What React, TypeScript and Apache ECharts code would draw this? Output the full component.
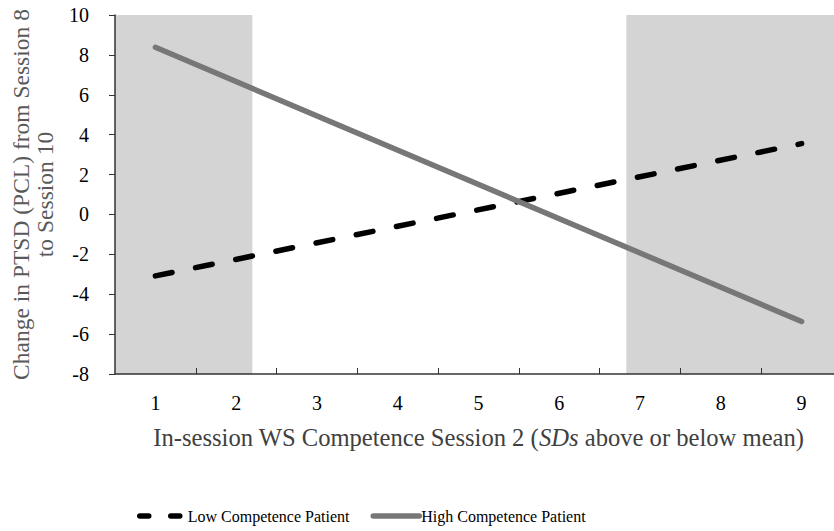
import React, { useEffect, useRef } from "react";
import * as echarts from "echarts";

const xLabelValues = [1, 2, 3, 4, 5, 6, 7, 8, 9];
const xTickValues = [1.5, 2.5, 3.5, 4.5, 5.5, 6.5, 7.5, 8.5];
const lowCompetence: [number, number][] = [
  [1, -3.08],
  [9, 3.55],
];
const highCompetence: [number, number][] = [
  [1, 8.38],
  [9, -5.37],
];
const shadedRegions: [number, number][] = [
  [0.5, 2.2],
  [6.83, 9.5],
];

const FONT = "'Liberation Serif', 'Times New Roman', serif";

export default function App() {
  const ref = useRef<HTMLDivElement>(null);
  useEffect(() => {
    document.body.style.margin = "0";
    const chart = echarts.init(ref.current!, undefined, { renderer: "svg" });
    chart.setOption({
      animation: false,
      backgroundColor: "#ffffff",
      textStyle: { fontFamily: FONT },
      grid: { left: 115, top: 15, right: -8, bottom: 157, outerBoundsMode: "none", containLabel: false },
      legend: {
        left: 132,
        top: 503,
        itemWidth: 46,
        itemHeight: 14,
        itemGap: 21,
        itemStyle: { opacity: 0 },
        data: [
          { name: "Low Competence Patient", lineStyle: { color: "#000", width: 5.5, type: [9, 22], cap: "round" } },
          { name: "High Competence Patient", lineStyle: { color: "#777", width: 5.5, type: "solid", cap: "round" } },
        ],
        textStyle: { fontFamily: FONT, fontSize: 16, color: "#000", padding: [0, 0, 0, -3] },
      },
      xAxis: {
        type: "value",
        min: 0.5,
        max: 9.5,
        name: "In-session WS Competence Session 2 ({i|SDs} above or below mean)",
        nameLocation: "middle",
        nameGap: 51,
        nameTextStyle: {
          fontFamily: FONT,
          fontSize: 24.6,
          color: "#404040",
          rich: { i: { fontFamily: FONT, fontSize: 24.6, fontStyle: "italic", color: "#404040" } },
        },
        axisLine: { show: true, onZero: false, lineStyle: { color: "#333", width: 1.5 } },
        axisTick: { show: true, inside: true, length: 6, customValues: xTickValues, lineStyle: { color: "#333" } },
        axisLabel: { customValues: xLabelValues, margin: 19, fontSize: 20, color: "#000", fontFamily: FONT },
        splitLine: { show: false },
        z: 5,
      },
      yAxis: {
        type: "value",
        min: -8,
        max: 10,
        interval: 2,
        name: "Change in PTSD (PCL) from Session 8\nto Session 10",
        nameLocation: "middle",
        nameGap: 58,
        nameTextStyle: { fontFamily: FONT, fontSize: 23.5, color: "#595959", lineHeight: 24 },
        axisLine: { show: true, lineStyle: { color: "#333", width: 1.5 } },
        axisTick: { show: true, inside: false, length: 6, lineStyle: { color: "#333" } },
        axisLabel: { margin: 26, fontSize: 20, color: "#000", fontFamily: FONT },
        splitLine: { show: false },
        z: 5,
      },
      series: [
        {
          type: "line",
          name: "shade",
          data: [],
          z: 1,
          silent: true,
          markArea: {
            silent: true,
            itemStyle: { color: "#d4d4d4" },
            data: shadedRegions.map(([a, b]) => [{ xAxis: a }, { xAxis: b }]),
          },
        },
        {
          type: "line",
          name: "Low Competence Patient",
          data: lowCompetence,
          symbol: "none",
          z: 3,
          lineStyle: { color: "#000", width: 5.5, type: [17, 24], cap: "round" },
          itemStyle: { color: "#000" },
        },
        {
          type: "line",
          name: "High Competence Patient",
          data: highCompetence,
          symbol: "none",
          z: 3,
          lineStyle: { color: "#777", width: 5.5, cap: "round" },
          itemStyle: { color: "#777" },
        },
      ],
    });
    return () => chart.dispose();
  }, []);
  return <div ref={ref} style={{ width: 834, height: 531 }} />;
}
